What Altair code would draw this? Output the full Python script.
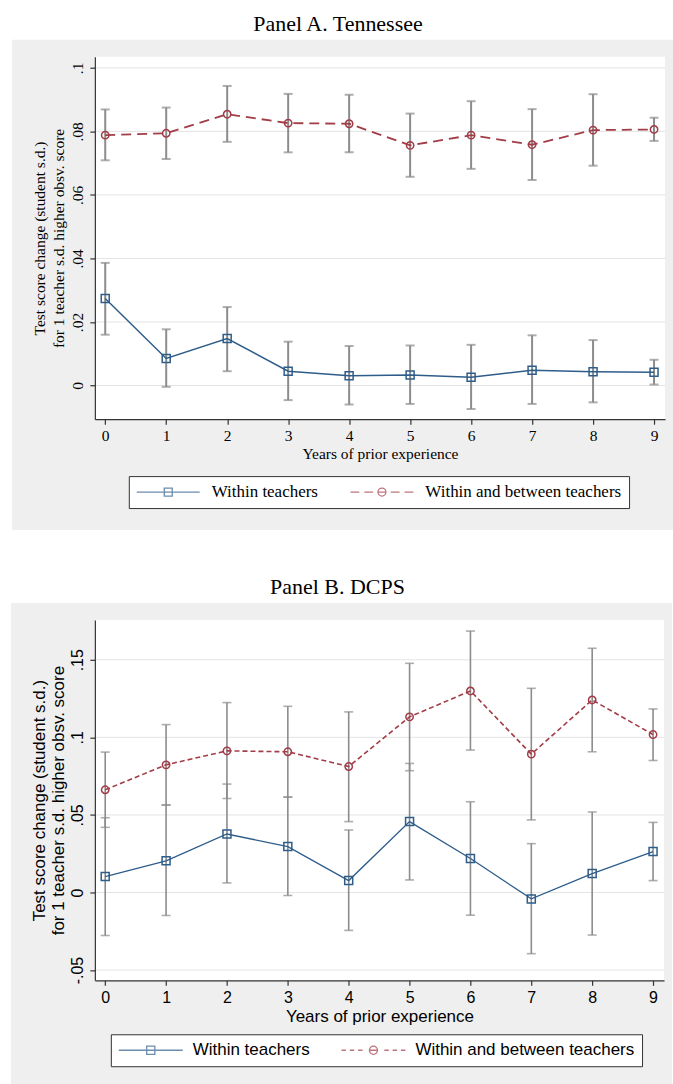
import altair as alt
import pandas as pd

# ---------------- data ----------------
years = list(range(10))
series_names = ["Within teachers", "Within and between teachers"]

# Panel A. Tennessee
a_within = [0.0274, 0.0085, 0.0148, 0.0045, 0.0031, 0.0033, 0.0026, 0.0048, 0.0043, 0.0042]
a_within_lo = [0.0160, -0.0004, 0.0045, -0.0046, -0.0060, -0.0058, -0.0074, -0.0058, -0.0053, 0.0003]
a_within_hi = [0.0386, 0.0177, 0.0247, 0.0138, 0.0124, 0.0126, 0.0128, 0.0158, 0.0143, 0.0081]
a_wb = [0.0788, 0.0794, 0.0854, 0.0826, 0.0824, 0.0756, 0.0788, 0.0758, 0.0804, 0.0806]
a_wb_lo = [0.0709, 0.0713, 0.0767, 0.0734, 0.0734, 0.0657, 0.0682, 0.0647, 0.0692, 0.0770]
a_wb_hi = [0.0869, 0.0875, 0.0943, 0.0918, 0.0915, 0.0856, 0.0895, 0.0870, 0.0917, 0.0843]
a_yticks = [0, 0.02, 0.04, 0.06, 0.08, 0.1]

# Panel B. DCPS
b_within = [0.0103, 0.0204, 0.0377, 0.0296, 0.0077, 0.0457, 0.0219, -0.0041, 0.0122, 0.0264]
b_within_lo = [-0.0277, -0.0148, 0.0062, -0.0019, -0.0244, 0.0081, -0.0146, -0.0394, -0.0274, 0.0077]
b_within_hi = [0.0482, 0.0564, 0.0699, 0.0615, 0.0403, 0.0832, 0.0585, 0.0315, 0.0519, 0.0452]
b_wb = [0.0662, 0.0823, 0.0913, 0.0907, 0.0812, 0.1132, 0.1299, 0.0892, 0.1241, 0.1018]
b_wb_lo = [0.0420, 0.0564, 0.0606, 0.0615, 0.0457, 0.0785, 0.0918, 0.0468, 0.0907, 0.0851]
b_wb_hi = [0.0905, 0.1082, 0.1224, 0.1200, 0.1164, 0.1477, 0.1685, 0.1316, 0.1574, 0.1183]
b_yticks = [-0.05, 0, 0.05, 0.1, 0.15]

x_title = "Years of prior experience"
y_title = ["Test score change (student s.d.)", "for 1 teacher s.d. higher obsv. score"]

# ---------------- styles ----------------
BLUE = "#2e5d8a"
RED = "#a23c46"
BAR = "#8c8c8c"
BG = "#EFEFEF"
GRID = "#E4E4E4"
AXIS = "#333333"


def make_df(w, wlo, whi, b, blo, bhi):
    rows = []
    for i, yr in enumerate(years):
        rows.append(dict(year=yr, series=series_names[0], est=w[i], lo=wlo[i], hi=whi[i]))
    for i, yr in enumerate(years):
        rows.append(dict(year=yr, series=series_names[1], est=b[i], lo=blo[i], hi=bhi[i]))
    return pd.DataFrame(rows)


def circle_path(r):
    return f"M{r},0A{r},{r} 0 1,1 -{r},0A{r},{r} 0 1,1 {r},0"


def panel(df, yticks, ydomain, W, H, font, fs, tfs, title, dash, lw, bw, cap, msize,
          bg_left, bg_bottom, leg_x, leg_y, leg_fs, red_path, blue_path, leg_size,
          col_pad, lab_off, pad_tail, ytitle_pad):
    one = pd.DataFrame({"k": [0]})
    ticks_df = pd.DataFrame({"tick": yticks})
    xscale = alt.Scale(domain=[-0.17, 9.18], nice=False, zero=False)
    yscale = alt.Scale(domain=ydomain, nice=False, zero=False)
    xaxis = alt.Axis(values=years, format="d", grid=False, labelFont=font, labelFontSize=fs,
                     titleFont=font, titleFontSize=tfs, titleFontWeight="normal",
                     labelColor="black", titleColor="black", domainColor=AXIS,
                     tickColor=AXIS, domainWidth=1.2, tickWidth=1.2, tickSize=5,
                     labelPadding=4, titlePadding=3, labelFlush=False, labelOverlap=False,
                     zindex=1)
    yaxis = alt.Axis(values=yticks, format=".2~f",
                     labelExpr="replace(replace(datum.label, '0.', '.'), '\u2212', '-')",
                     grid=False, labelFont=font, labelFontSize=fs, titleFont=font,
                     titleFontSize=tfs, titleFontWeight="normal", labelColor="black",
                     titleColor="black", domainColor=AXIS, tickColor=AXIS, domainWidth=1.2,
                     tickWidth=1.2, tickSize=5, labelAngle=270, labelAlign="center",
                     labelBaseline="alphabetic", labelPadding=7, titlePadding=ytitle_pad,
                     titleLineHeight=19, labelFlush=False, labelOverlap=False, zindex=1)

    def X(f):
        return alt.X(f, type="quantitative", scale=xscale, axis=xaxis, title=x_title)

    def Y(f):
        return alt.Y(f, type="quantitative", scale=yscale, axis=yaxis, title=y_title)

    bg = alt.Chart(one).mark_rect(color=BG).encode(
        x=alt.value(bg_left), x2=alt.value(W + 8), y=alt.value(-17), y2=alt.value(bg_bottom))
    white = alt.Chart(one).mark_rect(color="white").encode(
        x=alt.value(0), x2=alt.value(W), y=alt.value(0), y2=alt.value(H))
    grid = alt.Chart(ticks_df).mark_rule(color=GRID, strokeWidth=1).encode(y=Y("tick"))
    bars = alt.Chart(df).mark_rule(color=BAR, strokeWidth=bw).encode(
        x=X("year"), y=Y("lo"), y2="hi")
    cap_lo = alt.Chart(df).mark_tick(color=BAR, orient="horizontal", size=cap, thickness=bw).encode(
        x=X("year"), y=Y("lo"))
    cap_hi = alt.Chart(df).mark_tick(color=BAR, orient="horizontal", size=cap, thickness=bw).encode(
        x=X("year"), y=Y("hi"))
    line_b = alt.Chart(df).transform_filter(alt.datum.series == series_names[0]).mark_line(
        color=BLUE, strokeWidth=lw).encode(x=X("year"), y=Y("est"))
    line_r = alt.Chart(df).transform_filter(alt.datum.series == series_names[1]).mark_line(
        color=RED, strokeWidth=lw + 0.3, strokeDash=dash).encode(x=X("year"), y=Y("est"))
    pt_b = alt.Chart(df).transform_filter(alt.datum.series == series_names[0]).mark_point(
        shape="square", filled=False, color=BLUE, size=msize, strokeWidth=1.5, opacity=1).encode(
        x=X("year"), y=Y("est"))
    pt_r = alt.Chart(df).transform_filter(alt.datum.series == series_names[1]).mark_point(
        shape="circle", filled=False, color=RED, size=msize * 0.85, strokeWidth=1.5, opacity=1).encode(
        x=X("year"), y=Y("est"))

    tail = "\u00a0" * pad_tail
    leg = alt.Legend(orient="none", legendX=leg_x, legendY=leg_y, direction="horizontal",
                     title=None, labelFont=font, labelFontSize=leg_fs, labelColor="black",
                     labelLimit=500, strokeColor=AXIS, fillColor="white", padding=7,
                     cornerRadius=0, symbolSize=leg_size, symbolStrokeWidth=1.3,
                     columnPadding=col_pad, labelOffset=lab_off, clipHeight=18,
                     labelExpr=f"datum.label == '{series_names[1]}' ? datum.label + '{tail}' : datum.label")
    legend_layer = alt.Chart(df).transform_filter("false").mark_point(
        filled=False, size=leg_size, strokeWidth=1.3).encode(
        color=alt.Color("series:N", scale=alt.Scale(domain=series_names, range=[BLUE, RED]), legend=leg),
        shape=alt.Shape("series:N", scale=alt.Scale(domain=series_names, range=[blue_path, red_path]),
                        legend=leg))

    return alt.layer(bg, white, grid, bars, cap_lo, cap_hi, line_b, line_r, pt_b, pt_r,
                     legend_layer).properties(
        width=W, height=H,
        title=alt.TitleParams(text=title, font="Liberation Serif", fontSize=22,
                              fontWeight="normal", color="black", anchor="middle",
                              offset=4, dx=-42))


r = 0.127
blue_path = f"M-1,0H1M-{r},-{r}H{r}V{r}H-{r}Z"
red_path_a = ("M-1,0H-0.72M-0.56,0H-0.28M-0.127,0H0.127M0.28,0H0.56M0.72,0H1" + circle_path(r))
red_path_b = ("M-1,0H-0.86M-0.74,0H-0.6M-0.48,0H-0.34M-0.127,0H0.127M0.34,0H0.48M0.6,0H0.74M0.86,0H1"
              + circle_path(r))

df_a = make_df(a_within, a_within_lo, a_within_hi, a_wb, a_wb_lo, a_wb_hi)
df_b = make_df(b_within, b_within_lo, b_within_hi, b_wb, b_wb_lo, b_wb_hi)

panel_a = panel(df_a, a_yticks, [-0.0106, 0.1035], 571, 363, "Liberation Serif", 15.5, 15.5,
                "Panel A. Tennessee", [10, 6], 1.5, 2, 9, 64,
                -83, 474, 34, 420, 17, red_path_a, blue_path, 3969, 31, 11, 0, 4)
panel_b = panel(df_b, b_yticks, [-0.0566, 0.1757], 570, 361, "Liberation Sans", 16, 17,
                "Panel B. DCPS", [5, 3], 1.3, 1.6, 9, 64,
                -84, 465, 16, 415, 17, red_path_b, blue_path, 4096, 30, 9, 3, 2)

chart = alt.vconcat(panel_a, panel_b, spacing=46).resolve_scale(
    color="independent", shape="independent"
).resolve_legend(color="independent", shape="independent").configure(
    padding={"left": 11, "top": 12, "right": 0, "bottom": 0}, background="white"
).configure_view(stroke=None)

chart.save("out.html", embed_options={"renderer": "svg", "actions": False})
